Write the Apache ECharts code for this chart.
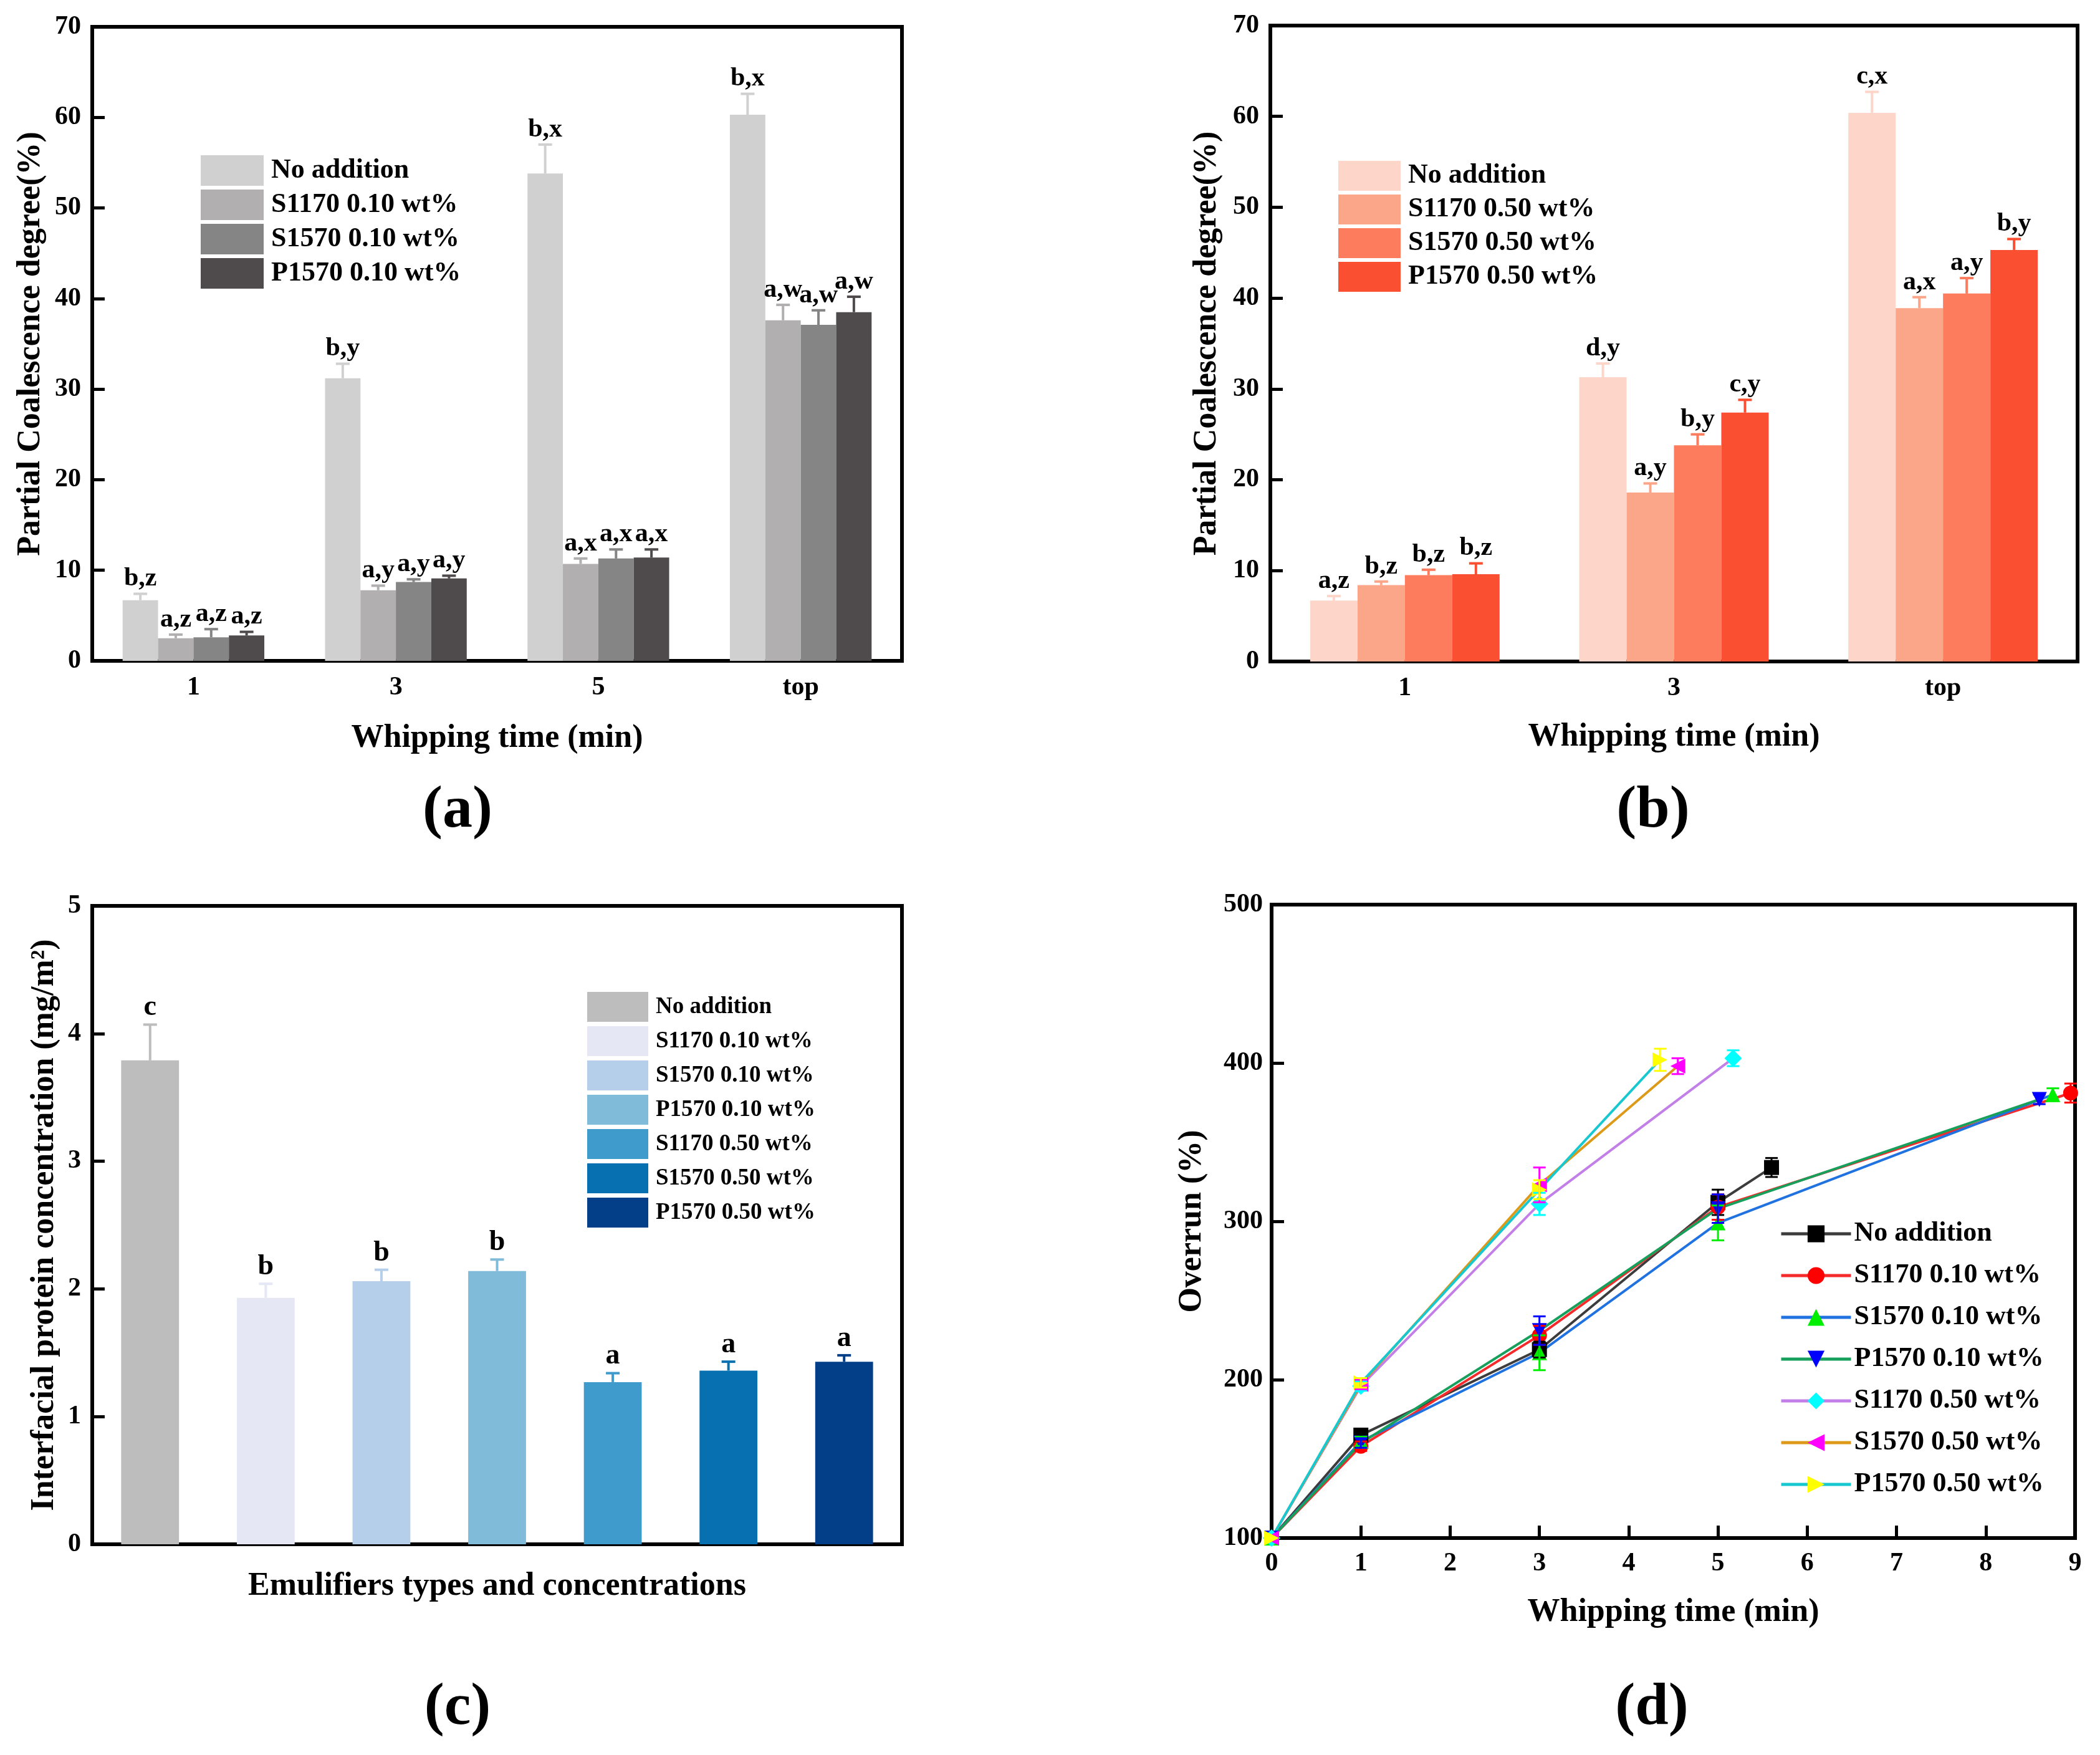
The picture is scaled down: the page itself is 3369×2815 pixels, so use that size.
<!DOCTYPE html>
<html><head><meta charset="utf-8">
<script src="https://cdn.jsdelivr.net/npm/echarts/dist/echarts.min.js"></script>
<style>
html,body{margin:0;padding:0;background:#fff;}
.c{position:absolute;left:0;top:0;width:3369px;height:2815px;}
</style>
</head><body>
<div id="ca" class="c"></div><div id="cb" class="c"></div><div id="cc" class="c"></div><div id="cd" class="c"></div>
<script>
const FONT = '"Liberation Serif", "Times New Roman", serif';

// ---------- Panel (a) ----------
const catsA = ['1', '3', '5', 'top'];
const namesA = ['No addition', 'S1170 0.10 wt%', 'S1570 0.10 wt%', 'P1570 0.10 wt%'];
const noAddA = [6.7, 31.2, 53.8, 60.3];
const s1170A = [2.5, 7.8, 10.7, 37.6];
const s1570A = [2.6, 8.7, 11.3, 37.1];
const p1570A = [2.8, 9.1, 11.4, 38.5];
const errNoAddA = [0.7, 1.6, 3.2, 2.3];
const errS1170A = [0.4, 0.5, 0.6, 1.7];
const errS1570A = [0.9, 0.3, 1.0, 1.6];
const errP1570A = [0.4, 0.3, 0.9, 1.7];
const lblNoAddA = ['b,z', 'b,y', 'b,x', 'b,x'];
const lblS1170A = ['a,z', 'a,y', 'a,x', 'a,w'];
const lblS1570A = ['a,z', 'a,y', 'a,x', 'a,w'];
const lblP1570A = ['a,z', 'a,y', 'a,x', 'a,w'];
const yTicksA = [0, 70, 10];

// ---------- Panel (b) ----------
const catsB = ['1', '3', 'top'];
const namesB = ['No addition', 'S1170 0.50 wt%', 'S1570 0.50 wt%', 'P1570 0.50 wt%'];
const noAddB = [6.7, 31.3, 60.4];
const s1170B = [8.4, 18.6, 38.9];
const s1570B = [9.5, 23.8, 40.5];
const p1570B = [9.6, 27.4, 45.3];
const errNoAddB = [0.5, 1.5, 2.3];
const errS1170B = [0.4, 1.0, 1.2];
const errS1570B = [0.6, 1.2, 1.7];
const errP1570B = [1.2, 1.4, 1.2];
const lblNoAddB = ['a,z', 'd,y', 'c,x'];
const lblS1170B = ['b,z', 'a,y', 'a,x'];
const lblS1570B = ['b,z', 'b,y', 'a,y'];
const lblP1570B = ['b,z', 'c,y', 'b,y'];
const yTicksB = [0, 70, 10];

// ---------- Panel (c) ----------
const namesC = ['No addition', 'S1170 0.10 wt%', 'S1570 0.10 wt%', 'P1570 0.10 wt%', 'S1170 0.50 wt%', 'S1570 0.50 wt%', 'P1570 0.50 wt%'];
const valsC = [3.79, 1.93, 2.06, 2.14, 1.27, 1.36, 1.43];
const errC = [0.28, 0.11, 0.09, 0.09, 0.07, 0.07, 0.05];
const lblC = ['c', 'b', 'b', 'b', 'a', 'a', 'a'];
const yTicksC = [0, 5, 1];

// ---------- Panel (d) ----------
const namesD = ['No addition', 'S1170 0.10 wt%', 'S1570 0.10 wt%', 'P1570 0.10 wt%', 'S1170 0.50 wt%', 'S1570 0.50 wt%', 'P1570 0.50 wt%'];
const tNoAdd = [0, 1, 3, 5, 5.6];          const oNoAdd = [100, 165, 219, 312, 334];   const eNoAdd = [0, 4, 5, 8, 6];
const tS1170a = [0, 1, 3, 5, 8.95];        const oS1170a = [100, 158, 228, 309, 381];  const eS1170a = [0, 3, 6, 8, 6];
const tS1570a = [0, 1, 3, 5, 8.75];        const oS1570a = [100, 161, 217, 299, 380];  const eS1570a = [0, 3, 11, 11, 4];
const tP1570a = [0, 1, 3, 5, 8.6];         const oP1570a = [100, 160, 231, 308, 377];  const eP1570a = [0, 3, 9, 9, 3];
const tS1170b = [0, 1, 3, 5.17];           const oS1170b = [100, 196, 311, 403];       const eS1170b = [0, 3, 7, 5];
const tS1570b = [0, 1, 3, 4.55];           const oS1570b = [100, 197, 323, 398];       const eS1570b = [0, 3, 11, 5];
const tP1570b = [0, 1, 3, 4.35];           const oP1570b = [100, 198, 320, 402];       const eP1570b = [0, 3, 6, 7];
const xTicksD = [0, 9, 1];
const yTicksD = [100, 500, 100];

// ---------- helpers ----------
const txt = (size) => ({ fontFamily: FONT, fontWeight: 'bold', fontSize: size, color: '#000' });

function valueAxis(t, extra) {
  return Object.assign({
    type: 'value', min: t[0], max: t[1], interval: t[2],
    axisLine: { show: true, lineStyle: { color: '#000', width: 6 } },
    axisTick: { show: true, inside: true, length: 20, lineStyle: { color: '#000', width: 5 } },
    axisLabel: Object.assign(txt(42), { margin: 18 }),
    splitLine: { show: false },
    nameLocation: 'middle',
    nameTextStyle: txt(52)
  }, extra);
}
function catAxis(cats, extra) {
  return Object.assign({
    type: 'category', data: cats,
    axisLine: { show: true, lineStyle: { color: '#000', width: 6 } },
    axisTick: { show: false },
    axisLabel: Object.assign(txt(42), { margin: 22 }),
    splitLine: { show: false },
    nameLocation: 'middle',
    nameTextStyle: txt(52)
  }, extra);
}
function gridBox(l, t, r, b) {
  return { left: l, top: t, width: r - l, height: b - t, show: true, borderColor: '#000', borderWidth: 6,
           backgroundColor: 'transparent', containLabel: false, outerBoundsMode: 'none' };
}
function panelLabel(text, x, y) {
  return { type: 'text', x: x, y: y, style: { text: text, font: 'bold 96px ' + FONT, fill: '#000', align: 'center', verticalAlign: 'middle' } };
}

// grouped bar error bars + letters
function groupErr(vals, errs, labels, colors, frac) {
  const n = vals.length;
  const data = [];
  vals.forEach((row, s) => row.forEach((v, c) => data.push([c, v, errs[s][c], s])));
  return {
    type: 'custom', z: 5, silent: true,
    renderItem: function (params, api) {
      const c = api.value(0), v = api.value(1), e = api.value(2), s = api.value(3);
      const band = api.size([1, 0])[0];
      const bw = band * frac;
      const cx = api.coord([c, 0])[0] + (s - (n - 1) / 2) * bw;
      const y0 = api.coord([c, v])[1], y1 = api.coord([c, v + e])[1];
      const col = colors[s];
      return { type: 'group', children: [
        { type: 'line', shape: { x1: cx, y1: y0, x2: cx, y2: y1 }, style: { stroke: col, lineWidth: 4 } },
        { type: 'line', shape: { x1: cx - 11, y1: y1, x2: cx + 11, y2: y1 }, style: { stroke: col, lineWidth: 4 } },
        { type: 'text', style: { text: labels[s][c], x: cx, y: y1 - 3, align: 'center', verticalAlign: 'bottom', font: 'bold 42px ' + FONT, fill: '#000' } }
      ] };
    },
    data: data
  };
}

function barLegend(names, l, t, w, h, gap, fs) {
  return { data: names, orient: 'vertical', left: l, top: t, itemWidth: w, itemHeight: h, itemGap: gap, icon: 'rect',
           textStyle: Object.assign(txt(fs), { padding: [0, 0, 0, 7], lineHeight: fs }), selectedMode: false };
}

// ---------- Chart (a) ----------
const colA = ['#d0d0d0', '#b1afb0', '#858585', '#4f4b4c'];
const valsA = [noAddA, s1170A, s1570A, p1570A];
const errsA = [errNoAddA, errS1170A, errS1570A, errP1570A];
const lblsA = [lblNoAddA, lblS1170A, lblS1570A, lblP1570A];
const chA = echarts.init(document.getElementById('ca'));
chA.setOption({
  animation: false,
  grid: gridBox(148, 43, 1447, 1060),
  xAxis: catAxis(catsA, { name: 'Whipping time (min)', nameGap: 99 }),
  yAxis: valueAxis(yTicksA, { name: 'Partial Coalescence degree(%)', nameGap: 72 }),
  legend: barLegend(namesA, 317, 244, 101, 49, 6, 44),
  series: valsA.map((v, i) => ({ type: 'bar', name: namesA[i], data: v, barWidth: '17.5%', barGap: '0%',
      itemStyle: { color: colA[i] } })).concat([groupErr(valsA, errsA, lblsA, colA, 0.175)]),
  graphic: [panelLabel('(a)', 734, 1301)]
});

// ---------- Chart (b) ----------
const colB = ['#fdd6c9', '#fca689', '#fc7c5d', '#fb4f32'];
const valsB = [noAddB, s1170B, s1570B, p1570B];
const errsB = [errNoAddB, errS1170B, errS1570B, errP1570B];
const lblsB = [lblNoAddB, lblS1170B, lblS1570B, lblP1570B];
const chB = echarts.init(document.getElementById('cb'));
chB.setOption({
  animation: false,
  grid: gridBox(2038, 41, 3333, 1061),
  xAxis: catAxis(catsB, { name: 'Whipping time (min)', nameGap: 96 }),
  yAxis: valueAxis(yTicksB, { name: 'Partial Coalescence degree(%)', nameGap: 75 }),
  legend: barLegend(namesB, 2142, 253, 100, 48, 6, 44),
  series: valsB.map((v, i) => ({ type: 'bar', name: namesB[i], data: v, barWidth: '17.6%', barGap: '0%',
      itemStyle: { color: colB[i] } })).concat([groupErr(valsB, errsB, lblsB, colB, 0.176)]),
  graphic: [panelLabel('(b)', 2652, 1301)]
});

// ---------- Chart (c) ----------
const colC = ['#bdbdbd', '#e6e7f5', '#b5cfea', '#80bbd9', '#409bcd', '#0670b0', '#033e88'];
const chC = echarts.init(document.getElementById('cc'));
const seriesC = namesC.map((nm, i) => ({
  type: 'bar', name: nm, stack: 'one', barWidth: '50%',
  data: valsC.map((v, j) => (j === i ? v : '-')),
  itemStyle: { color: colC[i] }
}));
seriesC.push({
  type: 'custom', z: 5, silent: true,
  renderItem: function (params, api) {
    const c = api.value(0), v = api.value(1), e = api.value(2);
    const cx = api.coord([c, 0])[0];
    const y0 = api.coord([c, v])[1], y1 = api.coord([c, v + e])[1];
    const col = colC[c];
    return { type: 'group', children: [
      { type: 'line', shape: { x1: cx, y1: y0, x2: cx, y2: y1 }, style: { stroke: col, lineWidth: 4 } },
      { type: 'line', shape: { x1: cx - 11, y1: y1, x2: cx + 11, y2: y1 }, style: { stroke: col, lineWidth: 4 } },
      { type: 'text', style: { text: lblC[c], x: cx, y: y1 - 4, align: 'center', verticalAlign: 'bottom', font: 'bold 46px ' + FONT, fill: '#000' } }
    ] };
  },
  data: valsC.map((v, i) => [i, v, errC[i]])
});
chC.setOption({
  animation: false,
  grid: gridBox(148, 1453, 1447, 2477),
  xAxis: catAxis(namesC, { name: 'Emulifiers types and concentrations', nameGap: 42, axisLabel: { show: false } }),
  yAxis: valueAxis(yTicksC, { name: 'Interfacial protein concentration (mg/m²)', nameGap: 50 }),
  legend: barLegend(namesC, 937, 1586, 98, 48, 7, 37),
  series: seriesC,
  graphic: [panelLabel('(c)', 734, 2740)]
});

// ---------- Chart (d) ----------
const lineCol = ['#3c3c3c', '#f52a2a', '#1f72e0', '#17a05c', '#c27fe8', '#dc9a18', '#18c8d0'];
const markCol = ['#000000', '#ff0000', '#00ee00', '#0000ff', '#00ffff', '#ff00ff', '#ffff00'];
const symD = ['rect', 'circle', 'triangle', 'triangle', 'diamond', 'triangle', 'triangle'];
const rotD = [0, 0, 0, 180, 0, 90, -90];
const tD = [tNoAdd, tS1170a, tS1570a, tP1570a, tS1170b, tS1570b, tP1570b];
const oD = [oNoAdd, oS1170a, oS1570a, oP1570a, oS1170b, oS1570b, oP1570b];
const eD = [eNoAdd, eS1170a, eS1570a, eP1570a, eS1170b, eS1570b, eP1570b];
const seriesD = [];
namesD.forEach((nm, i) => {
  seriesD.push({
    type: 'line', name: nm, data: tD[i].map((t, k) => [t, oD[i][k]]),
    symbol: symD[i], symbolSize: symD[i] === 'diamond' ? 28 : 24, symbolRotate: rotD[i],
    showAllSymbol: true,
    lineStyle: { color: lineCol[i], width: 4 },
    itemStyle: { color: markCol[i] }, z: 3
  });
});
namesD.forEach((nm, i) => {
  seriesD.push({
    type: 'custom', z: 4, silent: true,
    renderItem: function (params, api) {
      const x = api.value(0), y = api.value(1), e = api.value(2);
      if (!e) return null;
      const cx = api.coord([x, y])[0];
      const yt = api.coord([x, y + e])[1], yb = api.coord([x, y - e])[1];
      const col = markCol[i];
      return { type: 'group', children: [
        { type: 'line', shape: { x1: cx, y1: yt, x2: cx, y2: yb }, style: { stroke: col, lineWidth: 3 } },
        { type: 'line', shape: { x1: cx - 10, y1: yt, x2: cx + 10, y2: yt }, style: { stroke: col, lineWidth: 3 } },
        { type: 'line', shape: { x1: cx - 10, y1: yb, x2: cx + 10, y2: yb }, style: { stroke: col, lineWidth: 3 } }
      ] };
    },
    data: tD[i].map((t, k) => [t, oD[i][k], eD[i][k]])
  });
});
const chD = echarts.init(document.getElementById('cd'));
chD.setOption({
  animation: false,
  grid: gridBox(2040, 1451, 3329, 2467),
  xAxis: valueAxis(xTicksD, { name: 'Whipping time (min)', nameGap: 94, axisLabel: Object.assign(txt(42), { margin: 20 }) }),
  yAxis: valueAxis(yTicksD, { name: 'Overrun (%)', nameGap: 101, axisLabel: Object.assign(txt(42), { margin: 14 }) }),
  legend: { data: namesD, orient: 'vertical', left: 2850, top: 1950, itemWidth: 112, itemHeight: 34, itemGap: 19,
            lineStyle: { width: 5 },
            textStyle: Object.assign(txt(44), { lineHeight: 48 }), selectedMode: false },
  series: seriesD,
  graphic: [panelLabel('(d)', 2650, 2740)]
});
</script>
</body></html>
